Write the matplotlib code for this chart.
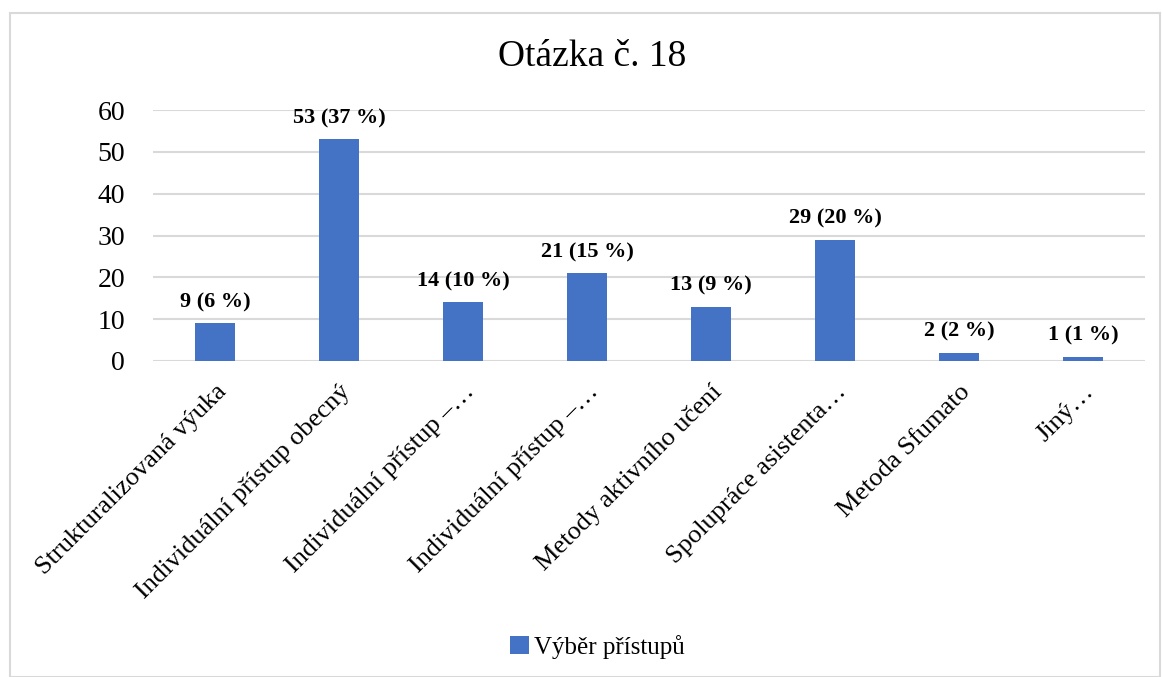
import matplotlib.pyplot as plt
from matplotlib.patches import Rectangle
import numpy as np


# Data

categories = [
    "Strukturalizovaná výuka",
    "Individuální přístup obecný",
    "Individuální přístup –…",
    "Individuální přístup –…",
    "Metody aktivního učení",
    "Spolupráce asistenta…",
    "Metoda Sfumato",
    "Jiný…",
]
counts = [9, 53, 14, 21, 13, 29, 2, 1]
percents = [6, 37, 10, 15, 9, 20, 2, 1]

series_name = "Výběr přístupů"
title = "Otázka č. 18"
yticks = [0, 10, 20, 30, 40, 50, 60]

BAR_COLOR = "#4472C4"
GRID_COLOR = "#D9D9D9"
SERIF = ["Liberation Serif", "DejaVu Serif"]

plt.rcParams["font.family"] = SERIF


# Figure

fig = plt.figure(figsize=(11.62, 6.77), dpi=100)

# chart border
fig.patches.append(Rectangle(
    (10 / 1162, 0.0), 1150 / 1162, 1 - 13 / 677,
    transform=fig.transFigure, fill=False,
    edgecolor=GRID_COLOR, linewidth=1.5,
))

ax = fig.add_axes([153 / 1162, 1 - 361 / 677, 992 / 1162, 251 / 677])

x = np.arange(len(categories))
bars = ax.bar(x, counts, width=0.32, color=BAR_COLOR,
              label=series_name, zorder=3)

for xi, c, p in zip(x, counts, percents):
    ax.text(xi, c + 2.6, f"{c} ({p} %)", ha="center", va="bottom",
            fontsize=16, fontweight="bold")

ax.set_xlim(-0.5, len(categories) - 0.5)
ax.set_ylim(0, 60)
ax.set_yticks(yticks)
ax.tick_params(axis="y", labelsize=20, length=0, pad=20)
ax.yaxis.grid(True, color=GRID_COLOR, linewidth=1.5, zorder=0)

ax.set_xticks(x)
ax.set_xticklabels(categories, rotation=45, ha="right",
                   rotation_mode="anchor", fontsize=19)
ax.tick_params(axis="x", length=0, pad=14)

for side in ["top", "right", "left", "bottom"]:
    ax.spines[side].set_visible(False)

fig.text(592 / 1162, 1 - 57 / 677, title, ha="center", va="center",
         fontsize=27, family=SERIF)

handles, labels = ax.get_legend_handles_labels()
fig.legend(handles, labels, loc="center", bbox_to_anchor=(597 / 1162, 1 - 647 / 677),
           frameon=False, prop={"family": SERIF, "size": 18},
           handlelength=0.75, handleheight=0.75, handletextpad=0.2)

plt.savefig("out.png", dpi=100)
